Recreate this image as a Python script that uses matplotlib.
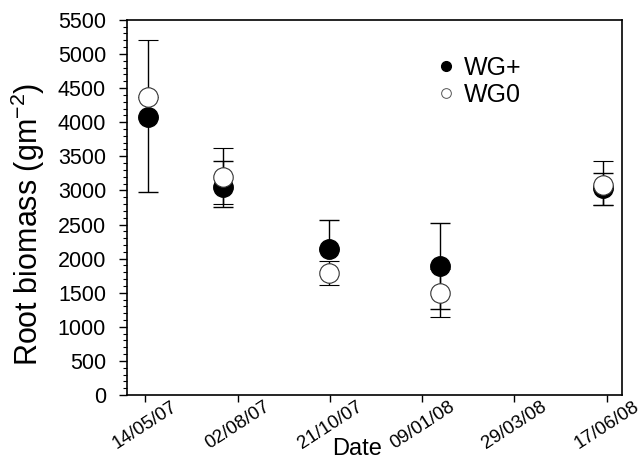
import matplotlib
matplotlib.use("Agg")
import matplotlib.pyplot as plt
from matplotlib.ticker import MultipleLocator
from matplotlib.lines import Line2D
import datetime as dt

plt.rcParams['font.family'] = ['Liberation Sans', 'DejaVu Sans']

# Data
sample_dates = ["2007-05-16", "2007-07-20", "2007-10-20", "2008-01-24", "2008-06-14"]
wg_plus = [4080, 3050, 2140, 1890, 3040]
wg_plus_err_lo = [1100, 290, 0, 630, 260]
wg_plus_err_hi = [0, 380, 430, 630, 220]
wg0 = [4370, 3200, 1790, 1500, 3080]
wg0_err_lo = [0, 400, 180, 350, 300]
wg0_err_hi = [830, 420, 180, 350, 350]
tick_dates = ["2007-05-14", "2007-08-02", "2007-10-21", "2008-01-09", "2008-03-29", "2008-06-17"]
tick_labels = ["14/05/07", "02/08/07", "21/10/07", "09/01/08", "29/03/08", "17/06/08"]
series_names = ["WG+", "WG0"]

to_d = lambda s: dt.datetime.strptime(s, "%Y-%m-%d")
x = [to_d(s) for s in sample_dates]
xt = [to_d(s) for s in tick_dates]

fig = plt.figure(figsize=(6.41, 4.61), dpi=100)
ax = fig.add_axes([0.198, 0.143, 0.772, 0.814])

ax.errorbar(x, wg_plus, yerr=[wg_plus_err_lo, wg_plus_err_hi], fmt='o', color='black',
            ecolor='black', elinewidth=1.0, capsize=7, capthick=1.0, markersize=14,
            markerfacecolor='black', markeredgecolor='black', zorder=3)
ax.errorbar(x, wg0, yerr=[wg0_err_lo, wg0_err_hi], fmt='o', color='black',
            ecolor='black', elinewidth=1.0, capsize=7, capthick=1.0, markersize=14,
            markerfacecolor='white', markeredgecolor='#333333', markeredgewidth=0.8,
            zorder=4)

ax.set_ylim(0, 5500)
ax.yaxis.set_major_locator(MultipleLocator(500))
ax.yaxis.set_minor_locator(MultipleLocator(100))
ax.set_xlim(to_d("2007-04-28"), to_d("2008-06-30"))
ax.set_xticks(xt)
ax.set_xticklabels(tick_labels, rotation=33, ha='center', fontsize=13.5)
ax.xaxis.set_minor_locator(plt.NullLocator())

ax.tick_params(axis='y', which='major', labelsize=15.5, length=6, width=1, direction='out', pad=9)
ax.tick_params(axis='y', which='minor', length=3, width=0.8, direction='out')
ax.tick_params(axis='x', which='major', length=5, width=1, direction='out', pad=-3)

for s in ax.spines.values():
    s.set_linewidth(1.2)

ax.set_ylabel("Root biomass (gm$^{\\mathregular{-2}}$)", fontsize=22)
ax.yaxis.set_label_coords(-0.162, 0.455)
ax.set_xlabel("Date", fontsize=17)
ax.xaxis.set_label_coords(0.465, -0.115)

handles = [Line2D([], [], linestyle='none', marker='o', markersize=7, markerfacecolor='black',
                  markeredgecolor='black'),
           Line2D([], [], linestyle='none', marker='o', markersize=7, markerfacecolor='white',
                  markeredgecolor='#555555', markeredgewidth=0.7)]
leg = ax.legend(handles, series_names, loc='upper left', bbox_to_anchor=(0.60, 0.93),
                frameon=False, fontsize=18, handletextpad=0.2, labelspacing=0.12,
                handlelength=1.0, borderaxespad=0)

fig.savefig("out.png", dpi=100)
